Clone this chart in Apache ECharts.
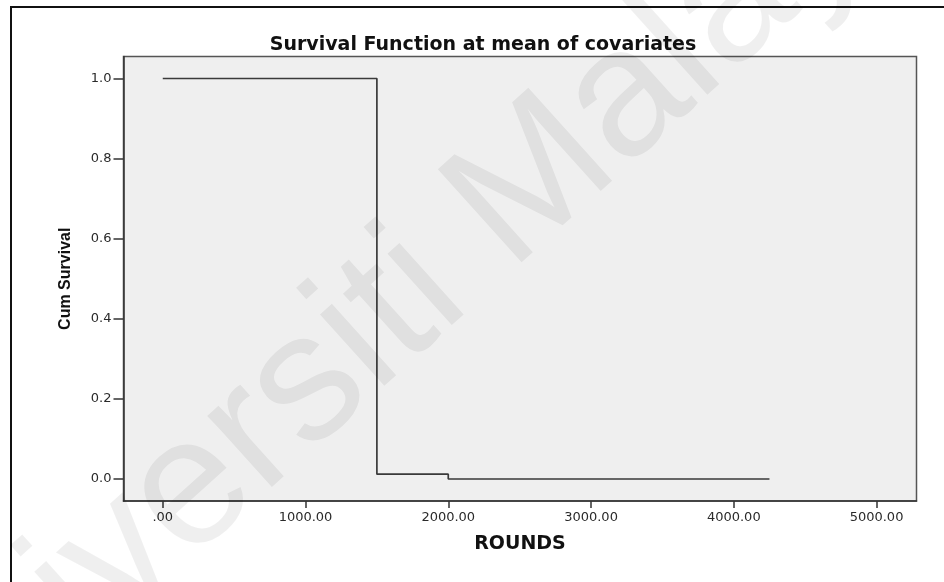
<!DOCTYPE html>
<html>
<head>
<meta charset="utf-8">
<script src="https://cdn.jsdelivr.net/npm/echarts@6/dist/echarts.min.js"></script>
<style>
  html, body { margin: 0; padding: 0; background: #ffffff; }
  #chart { width: 944px; height: 582px; }
</style>
</head>
<body>
<div id="chart"></div>
<script>
// Survival estimates: event times (rounds) and cumulative survival after each step
const rounds = [0, 1500, 2000, 4250];
const cumSurvival = [1.0, 0.012, 0.0, 0.0];

// Axis ticks and their printed labels
const xTickValues = [0, 1000, 2000, 3000, 4000, 5000];
const xTickLabels = ['.00', '1000.00', '2000.00', '3000.00', '4000.00', '5000.00'];
const yTickValues = [0, 0.2, 0.4, 0.6, 0.8, 1.0];
const yTickLabels = ['0.0', '0.2', '0.4', '0.6', '0.8', '1.0'];

const titleText = 'Survival Function at mean of covariates';
const xName = 'ROUNDS';
const yName = 'Cum Survival';
const stampText = 'Universiti Malaya';

function labelFor(values, labels, v) {
  for (let i = 0; i < values.length; i++) {
    if (Math.abs(values[i] - v) < 1e-9) return labels[i];
  }
  return '';
}

const chart = echarts.init(document.getElementById('chart'), null, { renderer: 'canvas' });

const option = {
  animation: false,
  backgroundColor: '#ffffff',
  title: {
    text: titleText,
    left: 478,
    top: 31,
    textAlign: 'center',
    textStyle: {
      fontFamily: 'DejaVu Sans',
      fontWeight: 'bold',
      fontSize: 19,
      color: '#111111'
    }
  },
  grid: {
    left: 123.5,
    top: 56.5,
    right: 27.5,
    bottom: 81,
    show: true,
    backgroundColor: '#efefef',
    borderColor: '#555555',
    borderWidth: 1.5,
    containLabel: false
  },
  xAxis: {
    type: 'value',
    min: -275,
    max: 5280,
    name: xName,
    nameLocation: 'middle',
    nameGap: 34,
    nameTextStyle: {
      fontFamily: 'DejaVu Sans',
      fontWeight: 'bold',
      fontSize: 19,
      color: '#111111'
    },
    axisLine: { show: true, onZero: false, lineStyle: { color: '#333333', width: 1.5 } },
    axisTick: {
      show: true,
      length: 7,
      customValues: xTickValues,
      lineStyle: { color: '#333333', width: 1.5 }
    },
    axisLabel: {
      customValues: xTickValues,
      margin: 10,
      fontFamily: 'DejaVu Sans',
      fontSize: 13,
      color: '#2a2a2a',
      formatter: v => labelFor(xTickValues, xTickLabels, v)
    },
    splitLine: { show: false }
  },
  yAxis: {
    type: 'value',
    min: -0.055,
    max: 1.055,
    name: yName,
    nameLocation: 'middle',
    nameGap: 50,
    nameTextStyle: {
      fontFamily: 'Liberation Sans',
      fontWeight: 'bold',
      fontSize: 16,
      color: '#111111'
    },
    axisLine: { show: true, onZero: false, lineStyle: { color: '#333333', width: 1.5 } },
    axisTick: {
      show: true,
      length: 10,
      customValues: yTickValues,
      lineStyle: { color: '#333333', width: 1.5 }
    },
    axisLabel: {
      customValues: yTickValues,
      margin: 12,
      fontFamily: 'DejaVu Sans',
      fontSize: 13,
      color: '#2a2a2a',
      formatter: v => labelFor(yTickValues, yTickLabels, v)
    },
    splitLine: { show: false }
  },
  series: [{
    type: 'line',
    step: 'end',
    data: rounds.map((r, i) => [r, cumSurvival[i]]),
    showSymbol: false,
    symbol: 'none',
    lineStyle: { color: '#3a3a3a', width: 1.7 },
    z: 3
  }],
  graphic: [
    // frame lines at the top and left edges of the figure
    {
      type: 'line',
      shape: { x1: 10, y1: 7, x2: 944, y2: 7 },
      style: { stroke: '#111111', lineWidth: 2 },
      z: 50
    },
    {
      type: 'line',
      shape: { x1: 11, y1: 6, x2: 11, y2: 582 },
      style: { stroke: '#111111', lineWidth: 2 },
      z: 50
    },
    // faint diagonal repository stamp
    {
      type: 'text',
      x: 398,
      y: 306,
      rotation: 42 * Math.PI / 180,
      z: 60,
      silent: true,
      style: {
        text: stampText,
        fontFamily: 'Liberation Sans',
        fontSize: 182,
        fill: 'rgba(0,0,0,0.062)',
        align: 'center',
        verticalAlign: 'middle'
      }
    }
  ]
};

chart.setOption(option);
</script>
</body>
</html>
